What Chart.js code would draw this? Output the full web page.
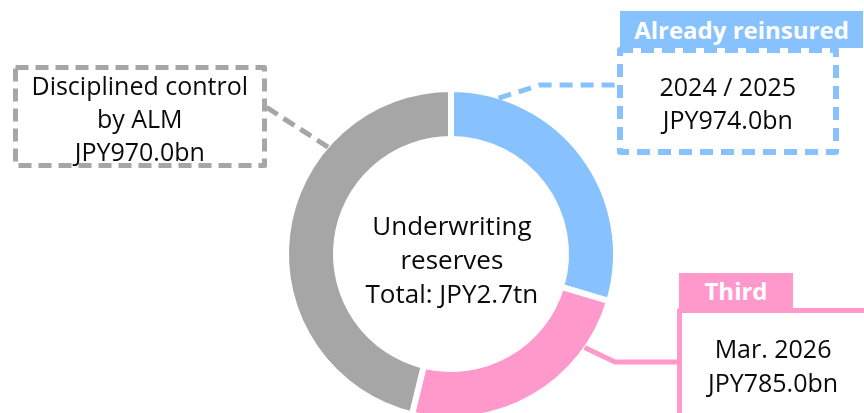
<!DOCTYPE html>
<html>
<head>
<meta charset="utf-8">
<script src="https://cdn.jsdelivr.net/npm/chart.js@4.4.1/dist/chart.umd.min.js"></script>
<style>
html,body{margin:0;padding:0;width:864px;height:413px;overflow:hidden;background:#fff;}
#wrap{position:relative;width:864px;height:413px;overflow:hidden;font-family:"Open Sans",sans-serif;color:#0a0a0a;}
#c{position:absolute;left:0;top:0;}
.t{position:absolute;text-align:center;font-size:25px;line-height:33px;white-space:nowrap;}
.hdr{position:absolute;color:#fff;font-weight:bold;font-size:24px;text-align:center;white-space:nowrap;}
</style>
</head>
<body>
<div id="wrap"><canvas id="c" width="864" height="440"></canvas></div>
<script>
// ---- data ----
const categories = ['Already reinsured', 'Third', 'Disciplined control by ALM'];
const periodLabels = ['2024 / 2025', 'Mar. 2026', 'Disciplined control\nby ALM'];
const amountLabels = ['JPY974.0bn', 'JPY785.0bn', 'JPY970.0bn'];
const ringShare = [29.6, 24.2, 46.2];   // share of the ring (%)
const centerLines = ['Underwriting', 'reserves', 'Total: JPY2.7tn'];

// ---- styles ----
const palette = ['#87C2FF', '#FF99CC', '#A6A6A6'];

const wrap = document.getElementById('wrap');
function addText(lines, cx, cy, lh, size) {
  const d = document.createElement('div');
  d.className = 't';
  d.style.lineHeight = lh + 'px';
  if (size) d.style.fontSize = size + 'px';
  d.innerHTML = lines.map(s => s.replace(/&/g,'&amp;')).join('<br>');
  wrap.appendChild(d);
  const w = d.offsetWidth, h = d.offsetHeight;
  d.style.left = (cx - w / 2) + 'px';
  d.style.top = (cy - h / 2) + 'px';
  return d;
}
function addHeader(text, x, y, w, h, color) {
  const d = document.createElement('div');
  d.className = 'hdr';
  d.style.left = x + 'px'; d.style.top = y + 'px';
  d.style.width = w + 'px'; d.style.height = h + 'px';
  d.style.lineHeight = h + 'px';
  d.style.background = color;
  d.textContent = text;
  wrap.appendChild(d);
}

const connectorPlugin = {
  id: 'connectors',
  afterDatasetsDraw(chart) {
    const ctx = chart.ctx;
    const arc = chart.getDatasetMeta(0).data[0];
    const cx = arc.x, cy = arc.y, R = arc.outerRadius - 2;
    const pt = deg => { const r = (deg - 90) * Math.PI / 180; return [cx + R * Math.cos(r), cy + R * Math.sin(r)]; };
    ctx.save();
    ctx.lineCap = 'butt'; ctx.lineJoin = 'round';
    // gray dashed box + connector
    ctx.strokeStyle = palette[2]; ctx.lineWidth = 5; ctx.setLineDash([13, 7]);
    ctx.strokeRect(15.5, 67.5, 249, 98);
    let p = pt(311);
    ctx.beginPath(); ctx.moveTo(p[0], p[1]); ctx.lineTo(266, 107); ctx.stroke();
    // blue dashed box + connector
    ctx.strokeStyle = palette[0]; ctx.lineWidth = 6; ctx.setLineDash([13, 8]);
    ctx.strokeRect(620, 50, 216, 102);
    ctx.lineWidth = 5;
    p = pt(17);
    ctx.beginPath(); ctx.moveTo(p[0], p[1]); ctx.lineTo(540, 85); ctx.lineTo(618, 85); ctx.stroke();
    // pink solid box + connector
    ctx.setLineDash([]);
    ctx.strokeStyle = palette[1]; ctx.lineWidth = 5;
    ctx.strokeRect(679.5, 310.5, 300, 200);
    p = pt(125);
    ctx.beginPath(); ctx.moveTo(p[0], p[1]); ctx.lineTo(615, 362); ctx.lineTo(678, 362); ctx.stroke();
    ctx.restore();
  }
};

new Chart(document.getElementById('c'), {
  type: 'doughnut',
  data: {
    labels: categories,
    datasets: [{
      data: ringShare,
      backgroundColor: palette,
      borderColor: '#ffffff',
      borderWidth: 6,
      hoverOffset: 0
    }]
  },
  options: {
    responsive: false,
    animation: false,
    cutout: '69.7%',
    layout: { padding: { left: 283, right: 245, top: 86, bottom: 18 } },
    plugins: { legend: { display: false }, tooltip: { enabled: false } },
    events: []
  },
  plugins: [connectorPlugin]
});

addHeader(categories[0], 620, 11, 243, 37, palette[0]);
addHeader(categories[1], 679, 273, 114, 36, palette[1]);
addText(periodLabels[2].split('\n').concat([amountLabels[2]]), 140, 118, 33, 25);
addText([periodLabels[0], amountLabels[0]], 728, 103, 33, 25);
addText([periodLabels[1], amountLabels[1]], 773, 365, 34, 25);
addText(centerLines, 452, 259, 34, 26);
</script>
</body>
</html>
